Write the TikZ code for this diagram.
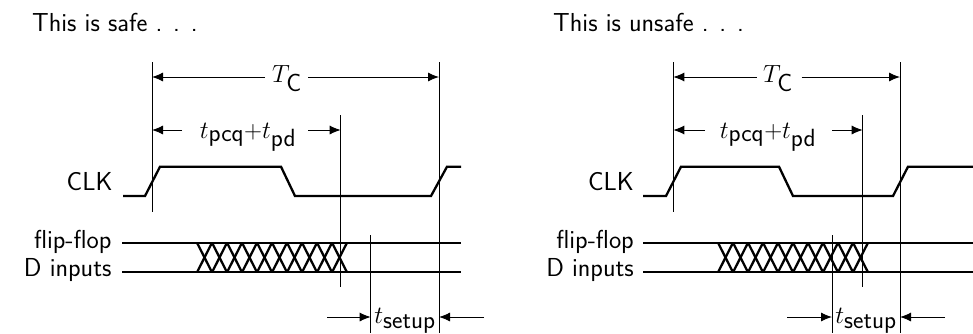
\documentclass[tikz,border=0pt]{standalone}
\usetikzlibrary{arrows.meta}
\begin{document}
\begin{tikzpicture}[x=1pt,y=-1pt,
  sig/.style={line width=2.3pt, line join=miter},
  guide/.style={line width=0.9pt},
  dim/.style={line width=0.9pt, -{Latex[length=11pt,width=9pt]}},
  lbl/.style={font=\sffamily\fontsize{26}{31}\selectfont, inner sep=0pt},
  mlbl/.style={font=\sffamily\Huge, inner sep=0pt}]
\useasboundingbox (0,0) rectangle (973,333);

% ================= LEFT: safe =================
\node[lbl, anchor=base west] (title1) at (32,31) {This is safe . . .};
\node[lbl, anchor=base east] (clk1) at (112.7,190.7) {CLK};
\node[lbl, anchor=base east] (ff1) at (111.7,248.3) {flip-flop};
\node[lbl, anchor=base east] (di1) at (111.7,276.7) {D inputs};

\coordinate (a1t) at (152,62);   \coordinate (a1b) at (152,212);
\coordinate (c1t) at (439,62);   \coordinate (c1b) at (439,333);
\coordinate (p1t) at (340.7,115); \coordinate (p1b) at (340.7,287);
\coordinate (s1t) at (370.7,235); \coordinate (s1b) at (370.7,333);
\draw[guide] (a1t) -- (a1b);
\draw[guide] (c1t) -- (c1b);
\draw[guide] (p1t) -- (p1b);
\draw[guide] (s1t) -- (s1b);

% clock
\coordinate (k1s) at (123,196);
\draw[sig] (k1s) -- (145,196) -- (160,166.7) -- (281,166.7) -- (295,196)
  -- (431,196) -- (447,166.7) -- (461,166.7);
% data lines
\coordinate (f1s) at (122,242.7); \coordinate (f1e) at (461,242.7);
\coordinate (d1s) at (122,272.3); \coordinate (d1e) at (461,272.3);
\draw[sig] (f1s) -- (f1e);
\draw[sig] (d1s) -- (d1e);
\foreach \i in {0,...,9}{
  \draw[sig] ({197+15*\i},242.7) -- ({212+15*\i},272.3);
  \draw[sig] ({197+15*\i},272.3) -- ({212+15*\i},242.7);
}

% T_C
\node[mlbl, anchor=base] (tc1) at (287,82.5) {$T_{\textsf{C}}$};
\coordinate (tc1l) at (265,77); \coordinate (tc1r) at (308,77);
\draw[dim] (tc1l) -- (tc1l -| a1t);
\draw[dim] (tc1r) -- (tc1r -| c1t);
% tpcq + tpd
\node[mlbl, anchor=base] (tp1) at (248,138) {$t_{\textsf{pcq}}{+}t_{\textsf{pd}}$};
\coordinate (tp1l) at (182,130); \coordinate (tp1r) at (308,130);
\draw[dim] (tp1l) -- (tp1l -| a1t);
\draw[dim] (tp1r) -- (tp1r -| p1t);
% tsetup
\node[mlbl, anchor=base] (ts1) at (405,323) {$t_{\textsf{setup}}$};
\coordinate (ts1l) at (327,317); \coordinate (ts1r) at (484,317);
\draw[dim] (ts1l) -- (ts1l -| s1t);
\draw[dim] (ts1r) -- (ts1r -| c1t);

% ================= RIGHT: unsafe =================
\node[lbl, anchor=base west] (title2) at (553,31) {This is unsafe . . .};
\node[lbl, anchor=base east] (clk2) at (634,190.7) {CLK};
\node[lbl, anchor=base east] (ff2) at (634,248.3) {flip-flop};
\node[lbl, anchor=base east] (di2) at (634,276.7) {D inputs};

\coordinate (a2t) at (673.3,62);  \coordinate (a2b) at (673.3,212);
\coordinate (c2t) at (900,62);    \coordinate (c2b) at (900,333);
\coordinate (p2t) at (862.7,115); \coordinate (p2b) at (862.7,287);
\coordinate (s2t) at (832,235);   \coordinate (s2b) at (832,333);
\draw[guide] (a2t) -- (a2b);
\draw[guide] (c2t) -- (c2b);
\draw[guide] (p2t) -- (p2b);
\draw[guide] (s2t) -- (s2b);

\coordinate (k2s) at (643,196);
\draw[sig] (k2s) -- (666,196) -- (681,166.7) -- (779,166.7) -- (793,196)
  -- (893,196) -- (908,166.7) -- (973,166.7);
\coordinate (f2s) at (643,242.7); \coordinate (f2e) at (973,242.7);
\coordinate (d2s) at (643,272.3); \coordinate (d2e) at (973,272.3);
\draw[sig] (f2s) -- (f2e);
\draw[sig] (d2s) -- (d2e);
\foreach \i in {0,...,9}{
  \draw[sig] ({718+15*\i},242.7) -- ({733+15*\i},272.3);
  \draw[sig] ({718+15*\i},272.3) -- ({733+15*\i},242.7);
}

\node[mlbl, anchor=base] (tc2) at (778,82.5) {$T_{\textsf{C}}$};
\coordinate (tc2l) at (756.7,77); \coordinate (tc2r) at (801.7,77);
\draw[dim] (tc2l) -- (tc2l -| a2t);
\draw[dim] (tc2r) -- (tc2r -| c2t);
\node[mlbl, anchor=base] (tp2) at (768,138) {$t_{\textsf{pcq}}{+}t_{\textsf{pd}}$};
\coordinate (tp2l) at (705,130); \coordinate (tp2r) at (832,130);
\draw[dim] (tp2l) -- (tp2l -| a2t);
\draw[dim] (tp2r) -- (tp2r -| p2t);
\node[mlbl, anchor=base] (ts2) at (866,323) {$t_{\textsf{setup}}$};
\coordinate (ts2l) at (787,317); \coordinate (ts2r) at (945,317);
\draw[dim] (ts2l) -- (ts2l -| s2t);
\draw[dim] (ts2r) -- (ts2r -| c2t);
\end{tikzpicture}
\end{document}
